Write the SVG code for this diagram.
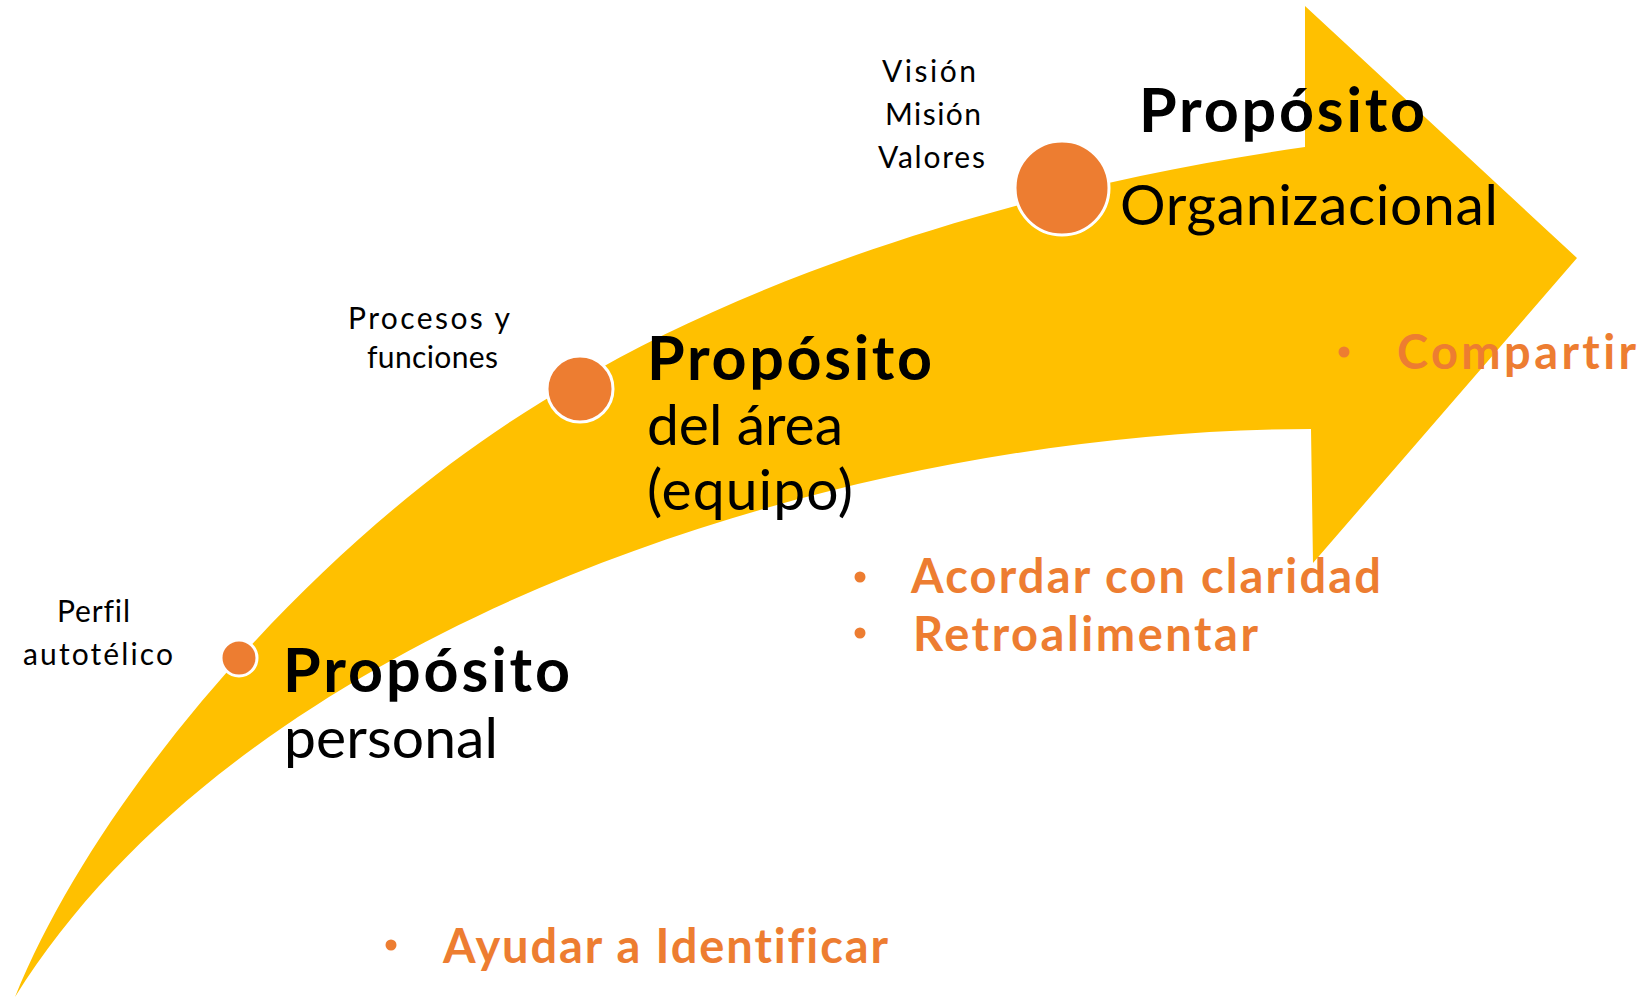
<svg xmlns="http://www.w3.org/2000/svg" width="1646" height="1000" viewBox="0 0 1646 1000">
<style>
text{font-variant-ligatures:none}
.big{font-family:Lato,"Liberation Sans",sans-serif;font-size:57px;fill:#000}
.bold{font-weight:700;font-size:61px}
.small{font-family:Lato,"Liberation Sans",sans-serif;font-size:30px;fill:#000}
.bul{font-family:Lato,"Liberation Sans",sans-serif;font-size:47px;font-weight:700;fill:#ED7D31}
.dot{fill:#ED7D31}
.node{fill:#ED7D31;stroke:#fff;stroke-width:3}
</style>
<rect width="1646" height="1000" fill="#fff"/>
<g id="arrow">
<path fill="#FFC000" d="M15,997 C105,775 350,505 578,381 C740,285 1000,190 1305,147 L1305,6 L1577,258 L1313,563 L1311,429 C850,430 250,620 15,997 Z"/>
</g>
<g id="connectors"></g>
<g id="node-personal">
<circle class="node" cx="239" cy="658" r="18"/>
<text class="small" x="57" y="622" textLength="73">Perfil</text>
<text class="small" x="23" y="665" textLength="150">autotélico</text>
<text class="big bold" x="283" y="692" textLength="287">Propósito</text>
<text class="big" x="284" y="758" textLength="214">personal</text>
</g>
<g id="node-area">
<circle class="node" cx="580" cy="389" r="33"/>
<text class="small" x="348" y="329" textLength="162">Procesos y</text>
<text class="small" x="367" y="368" textLength="131">funciones</text>
<text class="big bold" x="647" y="380" textLength="285">Propósito</text>
<text class="big" x="647" y="445" textLength="196">del área</text>
<text class="big" x="647" y="510" textLength="206">(equipo)</text>
</g>
<g id="node-org">
<circle class="node" cx="1062" cy="188" r="47"/>
<text class="small" x="882" y="82" textLength="94">Visión</text>
<text class="small" x="885" y="125" textLength="96">Misión</text>
<text class="small" x="878" y="168" textLength="107">Valores</text>
<text class="big bold" x="1139" y="132" textLength="286">Propósito</text>
<text class="big" x="1120" y="225" textLength="378">Organizacional</text>
</g>
<g id="bullets">
<circle class="dot" cx="1344" cy="352" r="5.5"/>
<text class="bul" x="1397" y="369" textLength="239">Compartir</text>
<circle class="dot" cx="860" cy="577" r="5.5"/>
<text class="bul" x="911" y="593" textLength="470">Acordar con claridad</text>
<circle class="dot" cx="860" cy="633" r="5.5"/>
<text class="bul" x="913" y="651" textLength="345">Retroalimentar</text>
<circle class="dot" cx="391" cy="945" r="5.5"/>
<text class="bul" x="443" y="963" textLength="445">Ayudar a Identificar</text>
</g>
</svg>
